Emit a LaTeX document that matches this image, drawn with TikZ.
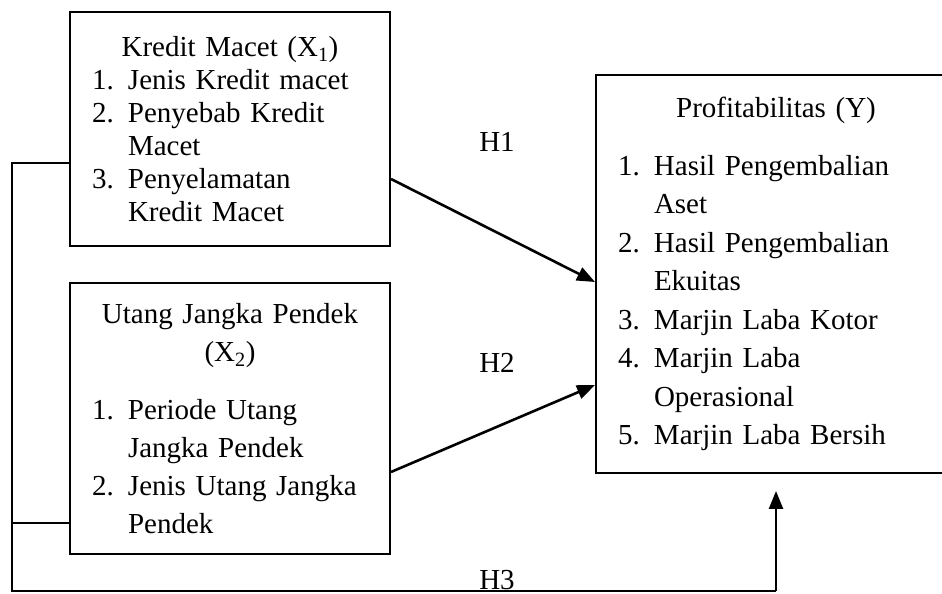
\documentclass[tikz,border=0pt]{standalone}
\usepackage{fontspec}
\setmainfont{Liberation Serif}
\usetikzlibrary{arrows.meta}
\usetikzlibrary{positioning}
\tikzstyle{kotaknode}=[rectangle, draw=black, line width=2pt, fill=white,
					font=\fontsize{29}{33}\selectfont, inner sep=0pt]
\newcommand{\butir}[1]{\makebox[36pt][l]{#1}}

\begin{document}
\begin{tikzpicture}[x=1pt, y=1pt,
 panah/.style={-{Triangle[length=18pt,width=14pt]}, line width=2.6pt},
 garis/.style={line width=2pt},
 labelnode/.style={font=\fontsize{29}{33}\selectfont, inner sep=0pt, anchor=base},
 ]
 \useasboundingbox (0,0) rectangle (942,594);
 %Nodes
 \node[kotaknode, minimum width=320pt, minimum height=234pt, text width=276pt] (kredit_node) at (230,465)
  {{\centering Kredit Macet (X\textsubscript{1})\par}
   \butir{1.}Jenis Kredit macet\par
   \butir{2.}Penyebab Kredit\par
   \butir{}Macet\par
   \butir{3.}Penyelamatan\par
   \butir{}Kredit Macet\par\vspace{10pt}};
 \node[kotaknode, minimum width=320pt, minimum height=271pt, text width=276pt,
  font=\fontsize{29}{38}\selectfont] (utang_node) at (230,175.5)
  {{\centering Utang Jangka Pendek\par (X\textsubscript{2})\par}\vspace{20pt}
   \butir{1.}Periode Utang\par
   \butir{}Jangka Pendek\par
   \butir{2.}Jenis Utang Jangka\par
   \butir{}Pendek\par};
 \node[kotaknode, minimum width=360pt, minimum height=398pt, text width=316pt,
  font=\fontsize{29}{38.5}\selectfont] (profit_node) at (776,320)
  {{\centering Profitabilitas (Y)\par}\vspace{19pt}
   \butir{1.}Hasil Pengembalian\par
   \butir{}Aset\par
   \butir{2.}Hasil Pengembalian\par
   \butir{}Ekuitas\par
   \butir{3.}Marjin Laba Kotor\par
   \butir{4.}Marjin Laba\par
   \butir{}Operasional\par
   \butir{5.}Marjin Laba Bersih\par\vspace{6pt}};
 \node[labelnode] (h1_node) at (497,442.5) {H1};
 \node[labelnode] (h2_node) at (497,221.5) {H2};
 \node[labelnode] (h3_node) at (497,4.5) {H3};
 \coordinate (kiri) at (12,3);

 %Lines
 \draw[panah] ([yshift=-50pt]kredit_node.east) -- ([yshift=-8pt]profit_node.west);
 \draw[panah] ([yshift=-53.5pt]utang_node.east) -- ([yshift=-111pt]profit_node.west);
 \draw[garis] ([yshift=-104.5pt]utang_node.west) -- ++(-58,0);
 \draw[garis] ([yshift=-34pt]kredit_node.west) -| (kiri) -- (kiri -| profit_node.south);
 \draw[panah] (kiri -| profit_node.south) -- ([yshift=-17pt]profit_node.south);
 \end{tikzpicture}
\end{document}
